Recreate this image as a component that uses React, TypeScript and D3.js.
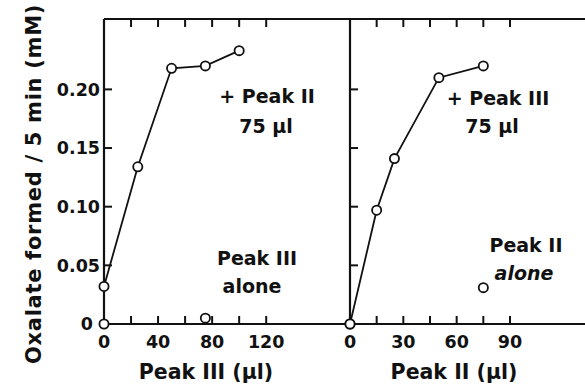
import * as d3 from 'd3'

// Left panel: Peak III volume (µl), with 75 µl Peak II added
const peakIIIVol = [0, 25, 50, 75, 100]
const withPeakII = [0.032, 0.134, 0.218, 0.22, 0.233]
// Peak III alone
const peakIIIAloneVol = [0, 75]
const peakIIIAlone = [0, 0.005]

// Right panel: Peak II volume (µl), with 75 µl Peak III added
const peakIIVol = [0, 15, 25, 50, 75]
const withPeakIII = [0, 0.097, 0.141, 0.21, 0.22]
// Peak II alone
const peakIIAloneVol = [0, 75]
const peakIIAlone = [0, 0.031]

const yTicks = [0.05, 0.1, 0.15, 0.2]
const yLabels = [0, 0.05, 0.1, 0.15, 0.2]
const leftXTicks = [20, 40, 60, 80, 100, 120]
const leftXLabels = [0, 40, 80, 120]
const rightXTicks = [15, 30, 45, 60, 75, 90]
const rightXLabels = [0, 30, 60, 90]

const W = 585
const H = 389
const top = 19
const bottom = 324
const left = 104
const mid = 350
const right = 590
const TICK = 8
const FONT = '"DejaVu Sans", sans-serif'
const INK = '#111'

export default function App() {
  const y = d3.scaleLinear().domain([0, 0.26]).range([bottom, top])
  const xL = d3.scaleLinear().domain([0, 182]).range([left, mid])
  const xR = d3.scaleLinear().domain([0, 135]).range([mid, right])

  const line = (xs: number[], ys: number[], x: d3.ScaleLinear<number, number>) =>
    d3.line<number>().x((_, i) => x(xs[i])).y(d => y(d))(ys) || ''

  const dots = (xs: number[], ys: number[], x: d3.ScaleLinear<number, number>, key: string) =>
    ys.map((v, i) => (
      <circle key={key + i} cx={x(xs[i])} cy={y(v)} r={4.6} fill="#fff" stroke={INK} strokeWidth={1.8} />
    ))

  const xTickMarks = (ticks: number[], x: d3.ScaleLinear<number, number>, key: string) =>
    ticks.map(t => (
      <g key={key + t}>
        <line x1={x(t)} x2={x(t)} y1={bottom} y2={bottom - TICK} stroke={INK} strokeWidth={2} />
        <line x1={x(t)} x2={x(t)} y1={top} y2={top + TICK} stroke={INK} strokeWidth={2} />
      </g>
    ))

  const textStyle = { fontFamily: FONT, fontWeight: 'bold' as const, fill: INK }

  return (
    <svg width={W} height={H} style={{ position: 'fixed', left: 0, top: 0, background: '#fff' }}>
      {/* frame */}
      <line x1={left} x2={right} y1={top} y2={top} stroke={INK} strokeWidth={2.2} />
      <line x1={left} x2={right} y1={bottom} y2={bottom} stroke={INK} strokeWidth={2.2} />
      <line x1={left} x2={left} y1={top} y2={bottom} stroke={INK} strokeWidth={2.2} />
      <line x1={mid} x2={mid} y1={top} y2={bottom} stroke={INK} strokeWidth={2.2} />

      {/* y ticks, pointing into each panel */}
      {yTicks.map(t => (
        <g key={'yt' + t}>
          <line x1={left} x2={left + TICK} y1={y(t)} y2={y(t)} stroke={INK} strokeWidth={2} />
          <line x1={mid} x2={mid + TICK} y1={y(t)} y2={y(t)} stroke={INK} strokeWidth={2} />
        </g>
      ))}
      {yLabels.map(t => (
        <text key={'yl' + t} x={t === 0 ? 93 : 100} y={y(t)} dy="0.36em" textAnchor="end" fontSize={17.5} style={textStyle}>
          {t === 0 ? '0' : d3.format('.2f')(t)}
        </text>
      ))}

      {xTickMarks(leftXTicks, xL, 'lx')}
      {xTickMarks(rightXTicks, xR, 'rx')}
      {leftXLabels.map(t => (
        <text key={'lxl' + t} x={xL(t)} y={348} textAnchor="middle" fontSize={17.5} style={textStyle}>{t}</text>
      ))}
      {rightXLabels.map(t => (
        <text key={'rxl' + t} x={xR(t)} y={348} textAnchor="middle" fontSize={17.5} style={textStyle}>{t}</text>
      ))}

      {/* axis titles */}
      <text x={206} y={379} textAnchor="middle" fontSize={20.5} style={textStyle}>Peak III (µl)</text>
      <text x={454} y={379} textAnchor="middle" fontSize={20.5} style={textStyle}>Peak II (µl)</text>
      <text transform="translate(41,184) rotate(-90)" textAnchor="middle" fontSize={21} letterSpacing={0.7} style={textStyle}>
        Oxalate formed / 5 min (mM)
      </text>

      {/* series */}
      <path d={line(peakIIIVol, withPeakII, xL)} fill="none" stroke={INK} strokeWidth={1.8} />
      <path d={line(peakIIVol, withPeakIII, xR)} fill="none" stroke={INK} strokeWidth={1.8} />
      {dots(peakIIIVol, withPeakII, xL, 'a')}
      {dots(peakIIIAloneVol, peakIIIAlone, xL, 'b')}
      {dots(peakIIVol, withPeakIII, xR, 'c')}
      {dots(peakIIAloneVol, peakIIAlone, xR, 'd')}

      {/* annotations */}
      <text x={267} y={103} textAnchor="middle" fontSize={19} style={textStyle}>+ Peak II</text>
      <text x={266} y={133} textAnchor="middle" fontSize={19} style={textStyle}>75 µl</text>
      <text x={257} y={265} textAnchor="middle" fontSize={19} style={textStyle}>Peak III</text>
      <text x={252} y={293} textAnchor="middle" fontSize={19} style={textStyle}>alone</text>
      <text x={498} y={105} textAnchor="middle" fontSize={19} style={textStyle}>+ Peak III</text>
      <text x={492} y={133} textAnchor="middle" fontSize={19} style={textStyle}>75 µl</text>
      <text x={526} y={252} textAnchor="middle" fontSize={19} style={textStyle}>Peak II</text>
      <text x={524} y={280} textAnchor="middle" fontSize={19} fontStyle="italic" style={textStyle}>alone</text>
    </svg>
  )
}
